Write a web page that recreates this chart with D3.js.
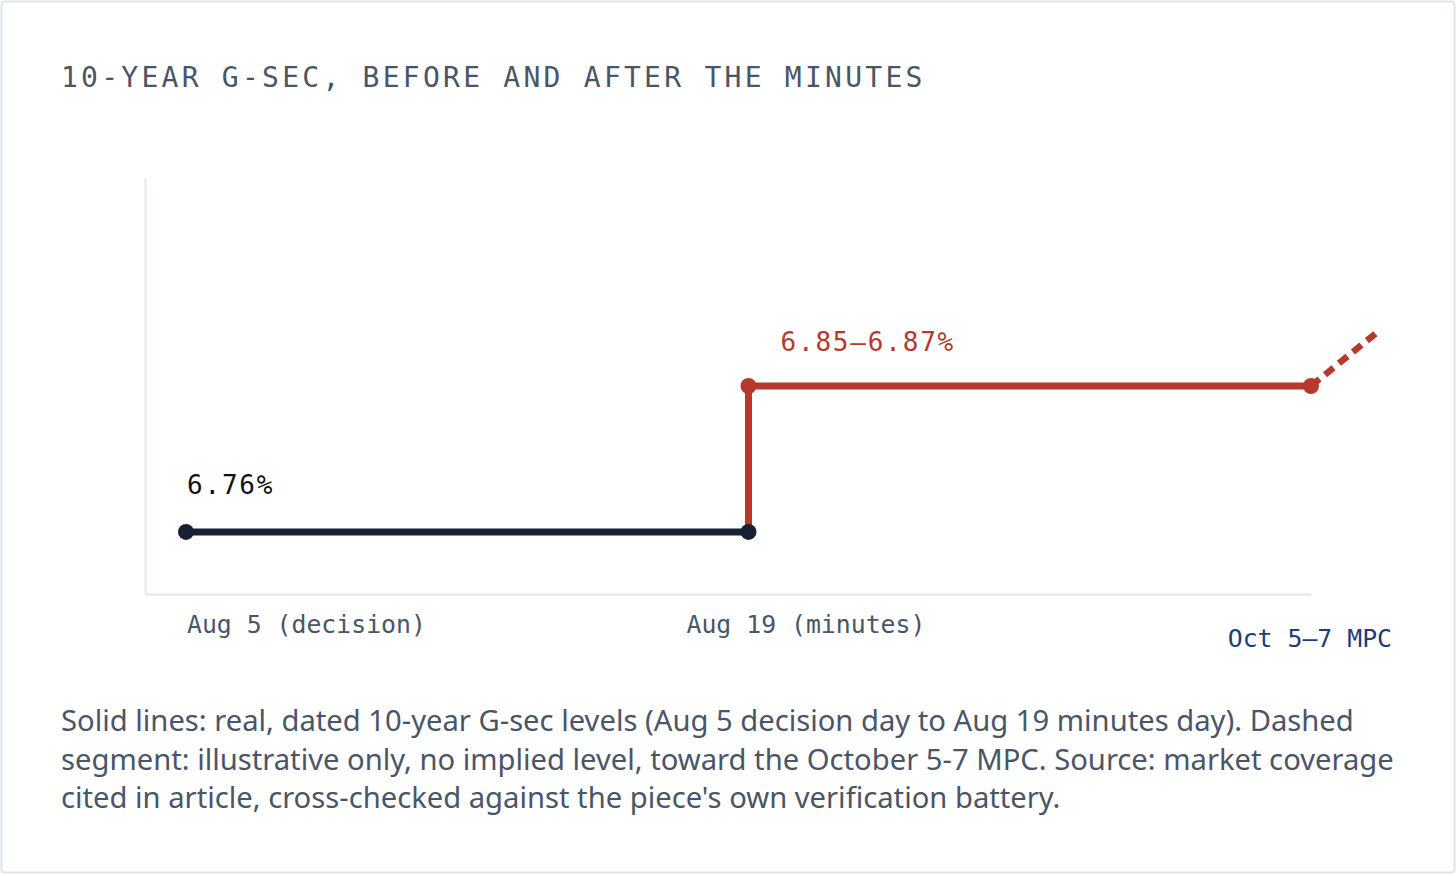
<!DOCTYPE html>
<html>
<head>
<meta charset="utf-8">
<script src="https://cdn.jsdelivr.net/npm/d3@7"></script>
<style>
  html, body { margin: 0; padding: 0; background: #fff; }
  svg { display: block; }
</style>
</head>
<body>
<div id="chart"></div>
<script>
// 10-year G-sec levels, before and after the MPC minutes
let stops = ["Aug 5 (decision)", "Aug 19 (minutes)", "Oct 5\u20137 MPC"];
let stopIndex = [0, 1, 2];
let beforeLevels = [6.76, 6.76];       // Aug 5 -> Aug 19, 6.76%
let afterLevels = [6.76, 6.86, 6.86];  // jump on Aug 19 to 6.85-6.87% (mid)
let illustrativeEnd = {idx: 2.115, level: 6.896}; // dashed, no implied level
let pointLabels = ["6.76%", "6.85\u20136.87%"];

let title = "10-YEAR G-SEC, BEFORE AND AFTER THE MINUTES";
let note = [
	"Solid lines: real, dated 10-year G-sec levels (Aug 5 decision day to Aug 19 minutes day). Dashed",
	"segment: illustrative only, no implied level, toward the October 5-7 MPC. Source: market coverage",
	"cited in article, cross-checked against the piece's own verification battery."
];

function graph(id) {
	let width = 1456, height = 876;
	let mono = "'DejaVu Sans Mono', 'Liberation Mono', monospace";
	let navy = "#172133", red = "#b5392d", slate = "#4a5566";

	let svg = d3.select(id).append("svg")
		.attr("width", width)
		.attr("height", height);

	// card frame
	svg.append("rect")
		.attr("x", 1.5).attr("y", 1.5)
		.attr("width", width - 3).attr("height", height - 5)
		.attr("rx", 3)
		.style("fill", "#fff")
		.style("stroke", "#dfe5ec")
		.style("stroke-width", 2);

	svg.append("text")
		.attr("x", 61).attr("y", 87)
		.style("font-family", mono)
		.style("font-size", "28px")
		.style("letter-spacing", "3.25px")
		.style("fill", slate)
		.text(title);

	let x = d3.scaleLinear().domain([0, 2]).range([186, 1311]);
	let y = d3.scaleLinear().domain([6.7175, 7.0025]).range([594, 178]);

	// axes (lines only)
	svg.append("g")
		.attr("transform", "translate(0,594)")
		.call(d3.axisBottom(d3.scaleLinear().range([145, 1311])).ticks(0).tickSizeOuter(0))
		.call(g => g.select(".domain").attr("stroke", "#dfe4ea").attr("stroke-width", 2));
	svg.append("g")
		.attr("transform", "translate(145,0)")
		.call(d3.axisLeft(d3.scaleLinear().range([594, 178])).ticks(0).tickSizeOuter(0))
		.call(g => g.select(".domain").attr("stroke", "#e6eaef").attr("stroke-width", 2));

	let line = d3.line().x(d => x(d[0])).y(d => y(d[1]));

	let before = beforeLevels.map((v, i) => [stopIndex[i], v]);
	let after = [[stopIndex[1], afterLevels[0]], [stopIndex[1], afterLevels[1]], [stopIndex[2], afterLevels[2]]];

	svg.append("path")
		.attr("d", line(before))
		.style("fill", "none").style("stroke", navy).style("stroke-width", 7);

	svg.append("path")
		.attr("d", line([[stopIndex[2], afterLevels[2]], [illustrativeEnd.idx, illustrativeEnd.level]]))
		.style("fill", "none").style("stroke", red).style("stroke-width", 6.5)
		.style("stroke-dasharray", "11,7");

	svg.append("path")
		.attr("d", line(after))
		.style("fill", "none").style("stroke", red).style("stroke-width", 7);

	svg.selectAll("circle.before")
		.data(before).enter()
		.append("circle")
		.attr("cx", d => x(d[0])).attr("cy", d => y(d[1]))
		.attr("r", 8)
		.style("fill", navy);

	svg.selectAll("circle.after")
		.data(after.slice(1)).enter()
		.append("circle")
		.attr("cx", d => x(d[0])).attr("cy", d => y(d[1]))
		.attr("r", 8)
		.style("fill", red);

	// value labels
	svg.append("text")
		.attr("x", x(0) + 1).attr("y", y(beforeLevels[0]) - 38)
		.style("font-family", mono).style("font-size", "26px").style("letter-spacing", "1.8px")
		.style("fill", "#111").text(pointLabels[0]);
	svg.append("text")
		.attr("x", x(1) + 32).attr("y", y(afterLevels[1]) - 35)
		.style("font-family", mono).style("font-size", "26px").style("letter-spacing", "1.8px")
		.style("fill", red).text(pointLabels[1]);

	// stop labels
	let tickOffsets = [1, -62, 81], tickY = [633, 633, 647], tickAnchor = ["start", "start", "end"];
	svg.selectAll("text.stop")
		.data(stops).enter()
		.append("text")
		.attr("x", (d, i) => x(stopIndex[i]) + tickOffsets[i])
		.attr("y", (d, i) => tickY[i])
		.attr("text-anchor", (d, i) => tickAnchor[i])
		.style("font-family", mono).style("font-size", "24.8px")
		.style("fill", (d, i) => i === 2 ? "#1c3d7a" : slate)
		.text(d => d);

	svg.append("text")
		.attr("y", 731)
		.style("font-family", "'Noto Sans', 'Open Sans', sans-serif")
		.style("font-size", "29.2px")
		.style("fill", slate)
		.selectAll("tspan")
		.data(note).enter()
		.append("tspan")
		.attr("x", 61)
		.attr("dy", (d, i) => i === 0 ? 0 : 38.5)
		.text(d => d);
}

graph("#chart");
</script>
</body>
</html>
